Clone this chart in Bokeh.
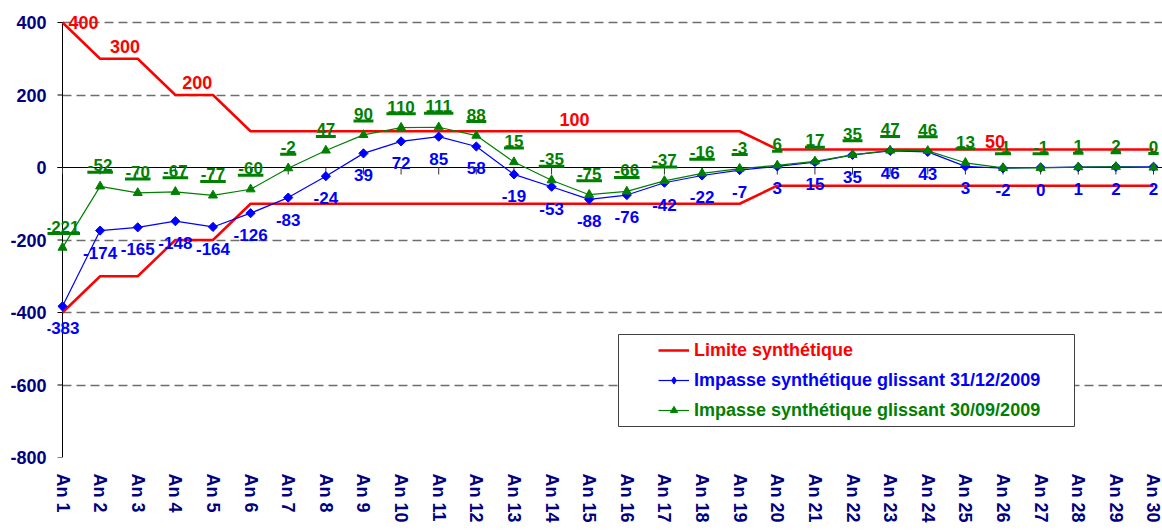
import math
from bokeh.plotting import figure
from bokeh.core.properties import value
from bokeh.models import (ColumnDataSource, Range1d, FixedTicker, LabelSet, Legend,
                          LegendItem, BoxAnnotation)
from bokeh.embed import file_html
from bokeh.resources import INLINE

# ---------------- data ----------------
categories = [f"An {i}" for i in range(1, 31)]
limit_upper = [400, 300, 300, 200, 200, 100, 100, 100, 100, 100, 100, 100, 100, 100, 100,
               100, 100, 100, 100, 50, 50, 50, 50, 50, 50, 50, 50, 50, 50, 50]
limit_lower = [-400, -300, -300, -200, -200, -100, -100, -100, -100, -100, -100, -100, -100, -100, -100,
               -100, -100, -100, -100, -50, -50, -50, -50, -50, -50, -50, -50, -50, -50, -50]
impasse_31_12_2009 = [-383, -174, -165, -148, -164, -126, -83, -24, 39, 72, 85, 58, -19, -53, -88,
                      -76, -42, -22, -7, 3, 15, 35, 46, 43, 3, -2, 0, 1, 2, 2]
impasse_30_09_2009 = [-221, -52, -70, -67, -77, -60, -2, 47, 90, 110, 111, 88, 15, -35, -75,
                      -66, -37, -16, -3, 6, 17, 35, 47, 46, 13, -1, -1, 1, 2, 0]
y_ticks = [-800, -600, -400, -200, 0, 200, 400]
limit_label_points = [1, 2, 4, 14, 26]          # "An" numbers carrying a limit label

# ---------------- style / layout ----------------
PPU = 37.62                      # pixels per category step
PAD_L, PAD_R = 15, 9             # frame padding (px) left of An 1 / right of An 30
PAD_T = 12                       # frame padding (px) above the top tick
X_START = 1 - PAD_L / PPU
X_END = len(categories) + PAD_R / PPU
FRAME_W = int(round((X_END - X_START) * PPU))
PX_Y = 435 / (max(y_ticks) - min(y_ticks))
Y_START, Y_END = min(y_ticks), max(y_ticks) + PAD_T / PX_Y
FRAME_H = 435 + PAD_T
PX_X = FRAME_W / (X_END - X_START)
FONT = "Liberation Sans"
RED, BLUE, GREEN, NAVY = "#FF0000", "#0000FF", "#008000", "#000080"
limit_label_dx = [21, 25, 22, 23, -8]
limit_label_dy = [0, 12, 13, 12, 8]
CHAR_W = {"-": 0.333}
LBL_SIZE = 17
NAN = float("nan")

x = list(range(1, len(categories) + 1))

p = figure(frame_width=FRAME_W, frame_height=FRAME_H,
           x_range=Range1d(X_START, X_END), y_range=Range1d(Y_START, Y_END),
           output_backend="svg", toolbar_location=None,
           min_border_left=47, min_border_right=0, min_border_top=22 - PAD_T, min_border_bottom=0)
p.outline_line_color = None
p.background_fill_color = "white"
p.border_fill_color = "white"

# grid
p.xgrid.visible = False
g = p.ygrid[0]
g.ticker = FixedTicker(ticks=[t for t in y_ticks if t != 0])
g.grid_line_color = "#6e6e6e"
g.grid_line_dash = "9 5"
g.grid_line_width = 1.3
if "cross_bounds" in type(g).properties():
    g.cross_bounds = (1, X_END)

# y axis (labels only; line drawn at An 1)
yax = p.yaxis[0]
yax.ticker = FixedTicker(ticks=y_ticks)
yax.major_label_overrides = {t: str(t) for t in y_ticks}
yax.axis_line_color = None
yax.major_tick_line_color = None
yax.minor_tick_line_color = None
yax.major_tick_out = 0
yax.major_tick_in = 0
yax.major_label_standoff = 1
yax.major_label_text_font = FONT
yax.major_label_text_font_style = "bold"
yax.major_label_text_font_size = "18px"
yax.major_label_text_color = NAVY

# x axis
xax = p.xaxis[0]
xax.ticker = FixedTicker(ticks=x)
xax.major_label_overrides = {i: c for i, c in zip(x, categories)}
xax.axis_line_color = None
xax.major_tick_line_color = None
xax.minor_tick_line_color = None
xax.major_tick_out = 0
xax.major_tick_in = 0
xax.major_label_orientation = "vertical"
xax.major_label_standoff = 16
xax.major_label_text_font = FONT
xax.major_label_text_font_style = "bold"
xax.major_label_text_font_size = "18px"
xax.major_label_text_color = NAVY

# axis line at An 1 and its ticks
tick_dx = 5 / PX_X
p.segment(x0=[1], y0=[min(y_ticks)], x1=[1], y1=[max(y_ticks)], line_color="black", line_width=1)
p.segment(x0=[1 - tick_dx] * len(y_ticks), y0=y_ticks, x1=[1] * len(y_ticks), y1=y_ticks,
          line_color="black", line_width=1)
# zero line with category ticks
p.segment(x0=[1 - tick_dx], y0=[0], x1=[X_END], y1=[0], line_color="black", line_width=1)
p.segment(x0=x, y0=[0] * len(x), x1=x, y1=[-7 / PX_Y] * len(x), line_color="#333333", line_width=1)

# series
r_lim = p.line(x, limit_upper, line_color=RED, line_width=2.5)
p.line(x, limit_lower, line_color=RED, line_width=2.5)
r_b_line = p.line(x, impasse_31_12_2009, line_color=BLUE, line_width=1.2)
p.scatter(x, impasse_31_12_2009, marker="square", angle=math.pi / 4, size=6.5,
          fill_color=BLUE, line_color=BLUE)
r_g_line = p.line(x, impasse_30_09_2009, line_color=GREEN, line_width=1.2)
r_g_pts = p.scatter(x, impasse_30_09_2009, marker="triangle", size=9,
                    fill_color=GREEN, line_color=GREEN)
# legend-only diamond (undrawn in the plot)
r_b_leg = p.scatter(x=[NAN], y=[NAN], marker="diamond", fill_color=BLUE, line_color=BLUE)

# green underlines
def text_w(s, size):
    return sum(CHAR_W.get(ch, 0.556) for ch in s) * size + 1

g_txt = [str(v) for v in impasse_30_09_2009]
p.rect(x=x, y=[v + 14 / PX_Y for v in impasse_30_09_2009],
       width=[text_w(t, LBL_SIZE) for t in g_txt], height=3,
       width_units="screen", height_units="screen",
       fill_color=GREEN, line_color=None)

# data labels
blue_src = ColumnDataSource(dict(x=x, y=impasse_31_12_2009, t=[str(v) for v in impasse_31_12_2009]))
p.add_layout(LabelSet(x="x", y="y", text="t", source=blue_src, y_offset=-22,
                      text_align="center", text_baseline="middle", text_font=value(FONT),
                      text_font_style="bold", text_font_size=f"{LBL_SIZE}px", text_color=BLUE))
green_src = ColumnDataSource(dict(x=x, y=impasse_30_09_2009, t=g_txt))
p.add_layout(LabelSet(x="x", y="y", text="t", source=green_src, y_offset=21,
                      text_align="center", text_baseline="middle", text_font=value(FONT),
                      text_font_style="bold", text_font_size=f"{LBL_SIZE}px", text_color=GREEN))
red_src = ColumnDataSource(dict(x=limit_label_points,
                                y=[limit_upper[i - 1] for i in limit_label_points],
                                t=[str(limit_upper[i - 1]) for i in limit_label_points],
                                dx=limit_label_dx, dy=limit_label_dy))
p.add_layout(LabelSet(x="x", y="y", text="t", source=red_src, x_offset="dx", y_offset="dy",
                      text_align="center", text_baseline="middle", text_font=value(FONT),
                      text_font_style="bold", text_font_size="18px", text_color=RED))

# legend
p.add_layout(BoxAnnotation(left=571, right=1027, bottom=31, top=123,
                           left_units="screen", right_units="screen",
                           top_units="screen", bottom_units="screen",
                           fill_color="white", fill_alpha=1.0,
                           line_color="#404040", line_width=1, line_alpha=1.0))

def add_legend(label, renderers, color, bottom):
    lg = Legend(items=[LegendItem(label=label, renderers=renderers)], location=(611, bottom),
                orientation="vertical", padding=0, spacing=0, margin=0,
                glyph_width=31, glyph_height=18, label_height=30, label_standoff=5,
                border_line_color=None, background_fill_alpha=0,
                label_text_font=FONT, label_text_font_style="bold",
                label_text_font_size="18px", label_text_color=color)
    p.add_layout(lg, "center")

add_legend("Limite synthétique", [r_lim], RED, 92)
add_legend("Impasse synthétique glissant 31/12/2009", [r_b_line, r_b_leg], BLUE, 62)
add_legend("Impasse synthétique glissant 30/09/2009", [r_g_line, r_g_pts], GREEN, 32)

open("out.html", "w").write(file_html(p, INLINE))
